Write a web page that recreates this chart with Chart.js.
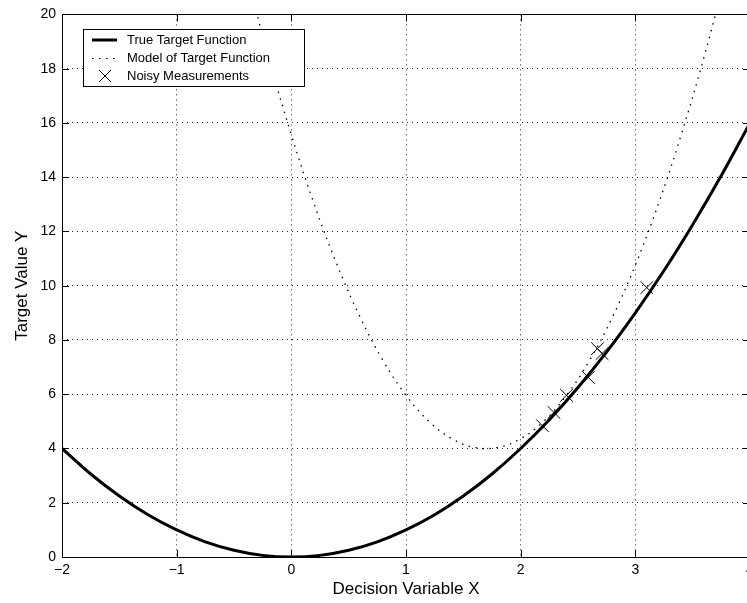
<!DOCTYPE html>
<html lang="en">
<head>
    <meta charset="UTF-8">
    <title>Target Function</title>
    <script src="https://cdn.jsdelivr.net/npm/chart.js"></script>
    <style>
        html, body { margin: 0; padding: 0; overflow: hidden; background: #fff; }
        #wrap { position: absolute; left: 0; top: 0; width: 760px; height: 603px; }
    </style>
</head>
<body>
    <div id="wrap">
        <canvas id="myChart" width="760" height="603"></canvas>
    </div>

    <script>
        // true target function
        const trueX = [-2, -1.75, -1.5, -1.25, -1, -0.75, -0.5, -0.25, 0, 0.25, 0.5, 0.75, 1, 1.25, 1.5, 1.75, 2, 2.25, 2.5, 2.75, 3, 3.25, 3.5, 3.75, 4];
        const trueY = [4, 3.06, 2.25, 1.56, 1, 0.56, 0.25, 0.06, 0, 0.06, 0.25, 0.56, 1, 1.56, 2.25, 3.06, 4, 5.06, 6.25, 7.56, 9, 10.56, 12.25, 14.06, 16];

        // model of the target function (dotted curve)
        const modelX = [-0.4, -0.2, 0, 0.2, 0.4, 0.6, 0.8, 1.0, 1.2, 1.4, 1.6, 1.8, 2.0, 2.2, 2.4, 2.6, 2.8, 3.0, 3.2, 3.4, 3.6, 3.8];
        const modelY = [21.64, 18.44, 15.56, 13, 10.76, 8.84, 7.24, 5.96, 5, 4.36, 4.04, 4.04, 4.36, 5, 5.96, 7.24, 8.84, 10.76, 13, 15.56, 18.44, 21.64];

        // noisy measurements
        const measX = [2.19, 2.29, 2.40, 2.59, 2.67, 2.71, 3.10];
        const measY = [4.84, 5.33, 5.96, 6.62, 7.68, 7.50, 9.93];

        const xTicks = [-2, -1, 0, 1, 2, 3, 4];
        const yTicks = [0, 2, 4, 6, 8, 10, 12, 14, 16, 18, 20];

        const legendLabels = ['True Target Function', 'Model of Target Function', 'Noisy Measurements'];

        const pts = (xs, ys) => xs.map((x, i) => ({ x: x, y: ys[i] }));
        const fmt = v => String(v).replace('-', '\u2212');
        const FONT = '"Liberation Sans", Arial, Helvetica, sans-serif';

        // box, inner tick marks and the legend, matlab style
        const framePlugin = {
            id: 'frame',
            afterDraw(chart) {
                const ctx = chart.ctx;
                const a = chart.chartArea;
                const sx = chart.scales.x, sy = chart.scales.y;
                ctx.save();
                ctx.strokeStyle = '#000';
                ctx.lineWidth = 1;
                ctx.setLineDash([]);
                ctx.beginPath();
                xTicks.forEach(v => {
                    const px = Math.round(sx.getPixelForValue(v)) + 0.5;
                    ctx.moveTo(px, a.bottom); ctx.lineTo(px, a.bottom - 7);
                    ctx.moveTo(px, a.top); ctx.lineTo(px, a.top + 7);
                });
                yTicks.forEach(v => {
                    const py = Math.round(sy.getPixelForValue(v)) + 0.5;
                    ctx.moveTo(a.left, py); ctx.lineTo(a.left + 7, py);
                    ctx.moveTo(a.right, py); ctx.lineTo(a.right - 7, py);
                });
                ctx.stroke();
                ctx.strokeRect(Math.round(a.left) + 0.5, Math.round(a.top) + 0.5, Math.round(a.right - a.left), Math.round(a.bottom - a.top));

                // legend
                const lx = 83.5, ly = 29.5, lw = 221, lh = 57;
                ctx.fillStyle = '#fff';
                ctx.fillRect(lx, ly, lw, lh);
                ctx.strokeRect(lx, ly, lw, lh);
                const rows = [40, 58, 76];
                ctx.font = '13px ' + FONT;
                ctx.fillStyle = '#000';
                ctx.textBaseline = 'middle';
                legendLabels.forEach((t, i) => ctx.fillText(t, 127, rows[i] + 0.5));
                // solid sample
                ctx.lineWidth = 3;
                ctx.beginPath(); ctx.moveTo(92, rows[0]); ctx.lineTo(117, rows[0]); ctx.stroke();
                // dotted sample
                ctx.lineWidth = 1;
                ctx.setLineDash([1.5, 5.5]);
                ctx.beginPath(); ctx.moveTo(92, rows[1] + 0.5); ctx.lineTo(118, rows[1] + 0.5); ctx.stroke();
                ctx.setLineDash([]);
                // cross sample
                ctx.beginPath();
                ctx.moveTo(99, rows[2] - 6); ctx.lineTo(111, rows[2] + 6);
                ctx.moveTo(111, rows[2] - 6); ctx.lineTo(99, rows[2] + 6);
                ctx.stroke();
                ctx.restore();
            }
        };

        const ctx = document.getElementById('myChart').getContext('2d');
        const myChart = new Chart(ctx, {
            type: 'scatter',
            data: {
                datasets: [{
                    label: legendLabels[0],
                    data: pts(trueX, trueY),
                    showLine: true,
                    borderColor: '#000',
                    borderWidth: 3,
                    pointRadius: 0,
                    tension: 0.4,
                    clip: 0
                }, {
                    label: legendLabels[1],
                    data: pts(modelX, modelY),
                    showLine: true,
                    borderColor: '#000',
                    borderWidth: 1.3,
                    borderDash: [1.5, 5.5],
                    pointRadius: 0,
                    tension: 0.4,
                    clip: 0
                }, {
                    label: legendLabels[2],
                    data: pts(measX, measY),
                    showLine: false,
                    pointStyle: 'crossRot',
                    pointRadius: 9,
                    borderColor: '#000',
                    borderWidth: 1
                }]
            },
            options: {
                responsive: false,
                animation: false,
                layout: { padding: { top: 13, right: 9, left: 0, bottom: 0 } },
                scales: {
                    x: {
                        type: 'linear',
                        min: -2,
                        max: 4,
                        afterBuildTicks: s => { s.ticks = xTicks.map(v => ({ value: v })); },
                        afterFit: s => { s.height = 46; },
                        grid: { color: '#222', lineWidth: 1, drawTicks: false },
                        border: { display: false, dash: [1, 4] },
                        ticks: {
                            color: '#000',
                            padding: 5,
                            maxRotation: 0,
                            font: { family: FONT, size: 14 },
                            callback: v => fmt(v)
                        },
                        title: {
                            display: true,
                            text: 'Decision Variable X',
                            color: '#000',
                            font: { family: FONT, size: 17 },
                            padding: { top: 0, bottom: 3 }
                        }
                    },
                    y: {
                        type: 'linear',
                        min: 0,
                        max: 20,
                        afterBuildTicks: s => { s.ticks = yTicks.map(v => ({ value: v })); },
                        afterFit: s => { s.width = 62; },
                        grid: { color: '#222', lineWidth: 1, drawTicks: false },
                        border: { display: false, dash: [1, 4] },
                        ticks: {
                            color: '#000',
                            padding: 6,
                            font: { family: FONT, size: 14 },
                            callback: v => fmt(v)
                        },
                        title: {
                            display: true,
                            text: 'Target Value Y',
                            color: '#000',
                            font: { family: FONT, size: 17 },
                            padding: { top: 12, bottom: 0 }
                        }
                    }
                },
                plugins: {
                    legend: { display: false },
                    tooltip: { enabled: false }
                }
            },
            plugins: [framePlugin]
        });
    </script>
</body>
</html>
